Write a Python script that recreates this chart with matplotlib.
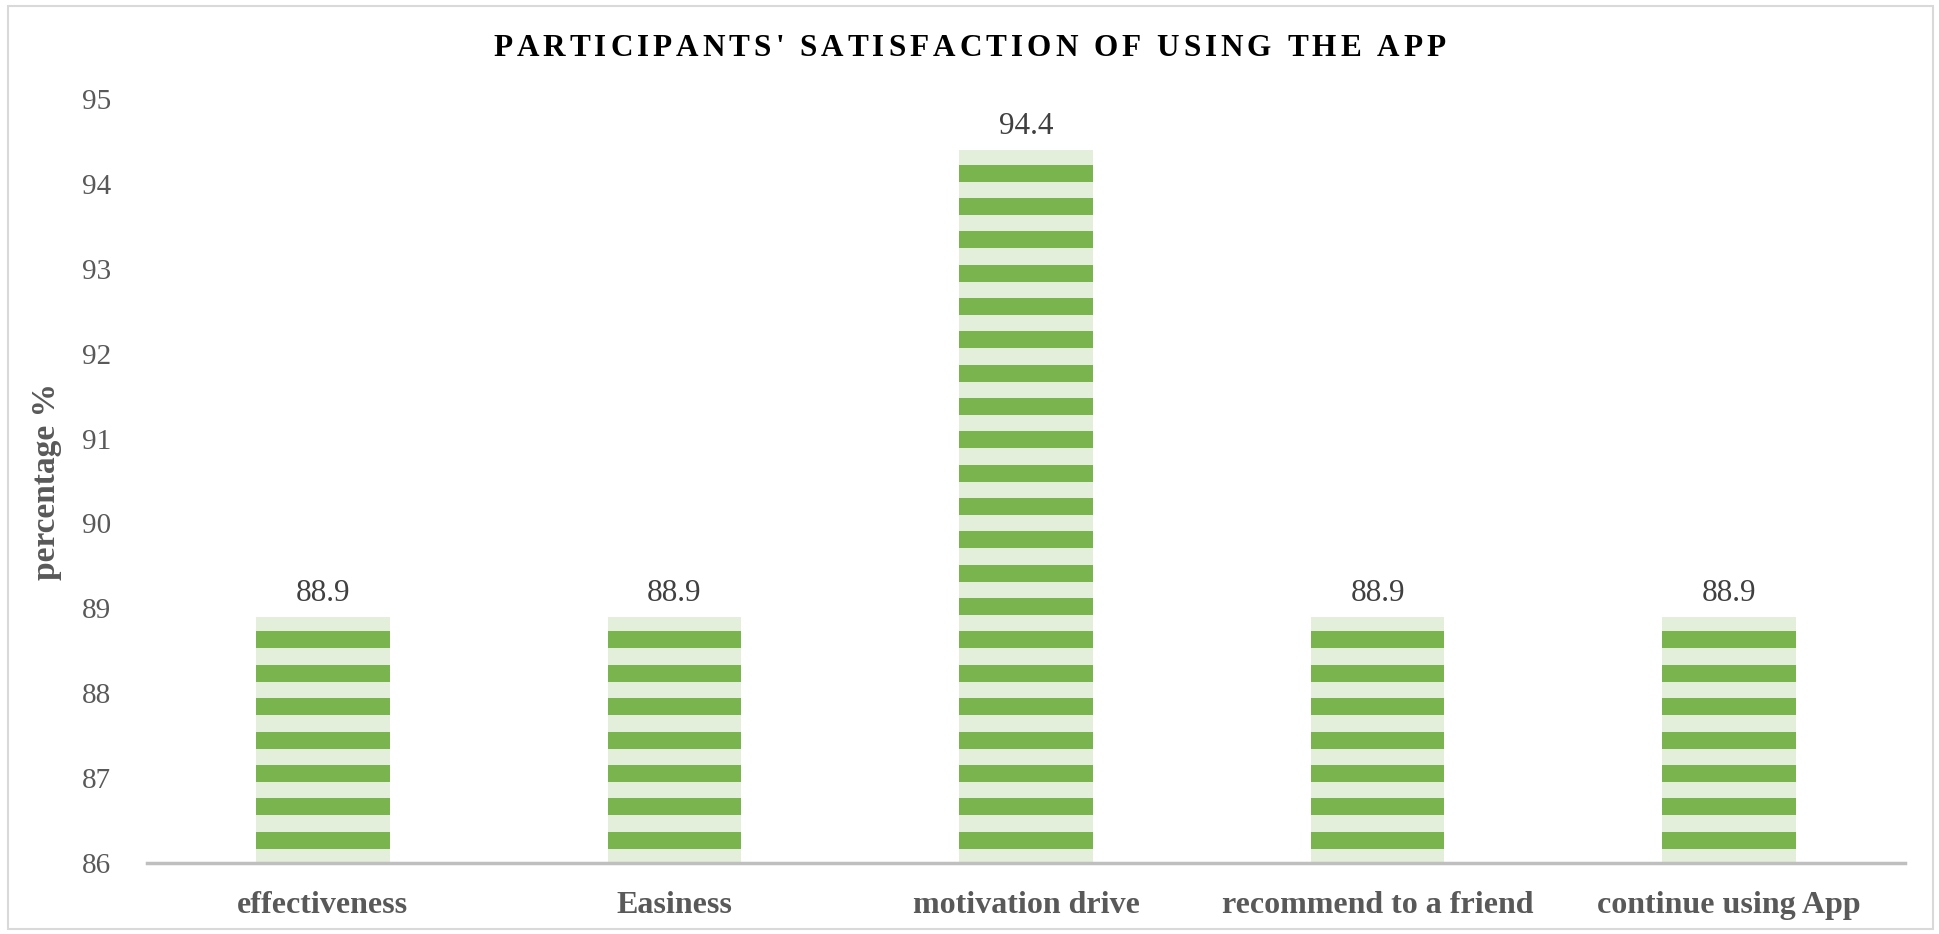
import numpy as np
import matplotlib
matplotlib.use("Agg")
import matplotlib.pyplot as plt
from matplotlib.patches import Rectangle

categories = ["effectiveness", "Easiness", "motivation drive", "recommend to a friend", "continue using App"]
values = [88.9, 88.9, 94.4, 88.9, 88.9]
yticks = [86, 87, 88, 89, 90, 91, 92, 93, 94, 95]
title = "PARTICIPANTS' SATISFACTION OF USING THE APP"

dark = "#7AB44F"
light = "#E3EFDA"
grey = "#595959"
serif = "Liberation Serif"

W, H, DPI = 1939, 934, 100
fig = plt.figure(figsize=(W / DPI, H / DPI), dpi=DPI)
ax = fig.add_axes([147 / W, 1 - 863 / H, (1905 - 147) / W, (863 - 99) / H])

base = 86
x = np.arange(len(categories))
bw = 0.38

# light bar body, then the darker horizontal stripes tiled up from the axis
ax.bar(x, [v - base for v in values], bottom=base, width=bw, color=light, zorder=2)
gap, band, period = 0.17, 0.2, 0.3929
for xi, v in zip(x, values):
    lo = base + gap
    while lo + band <= v:
        ax.bar(xi, band, bottom=lo, width=bw, color=dark, zorder=3)
        lo += period
    ax.text(xi, v + 0.1, f"{v:.1f}", ha="center", va="bottom",
            fontsize=22.5, family=serif, color="#404040")

ax.set_xlim(-0.5, len(categories) - 0.5)
ax.set_ylim(base, 95)
ax.set_yticks(yticks)
ax.set_yticklabels([str(t) for t in yticks], fontsize=21, family=serif, color=grey)
ax.set_xticks(x)
ax.set_xticklabels(categories, fontsize=23, family=serif, fontweight="bold", color=grey)
ax.tick_params(axis="y", length=0, pad=26)
ax.tick_params(axis="x", length=0, pad=20)
for s in ["top", "right", "left"]:
    ax.spines[s].set_visible(False)
ax.spines["bottom"].set_color("#BFBFBF")
ax.spines["bottom"].set_linewidth(2.5)
ax.spines["bottom"].set_zorder(4)

ax.set_ylabel("percentage %", fontsize=24, family=serif, fontweight="bold", color=grey)
ax.yaxis.set_label_coords(-(147 - 62) / (1905 - 147), 0.5)

# title with letter spacing: place each character by hand
renderer = fig.canvas.get_renderer()
tfont = dict(fontsize=22.5, family=serif, fontweight="bold", color="black")
track = 4.0

def char_width(c):
    a = fig.text(0, 0, "x" + c + "x", **tfont)
    b = fig.text(0, 0, "xx", **tfont)
    w = a.get_window_extent(renderer).width - b.get_window_extent(renderer).width
    a.remove()
    b.remove()
    return w

widths = [char_width(c) for c in title]
total = sum(widths) + track * (len(title) - 1)
px = W / 2 - total / 2
ty = 1 - 48 / H
for c, w in zip(title, widths):
    fig.text(px / W, ty, c, ha="left", va="center", **tfont)
    px += w + track

# thin frame around the chart
fig.patches.append(Rectangle((8 / W, 5 / H), (1933 - 8) / W, (928 - 5) / H,
                             transform=fig.transFigure, fill=False,
                             edgecolor="#D9D9D9", linewidth=1.5))

fig.savefig("out.png", dpi=DPI)
